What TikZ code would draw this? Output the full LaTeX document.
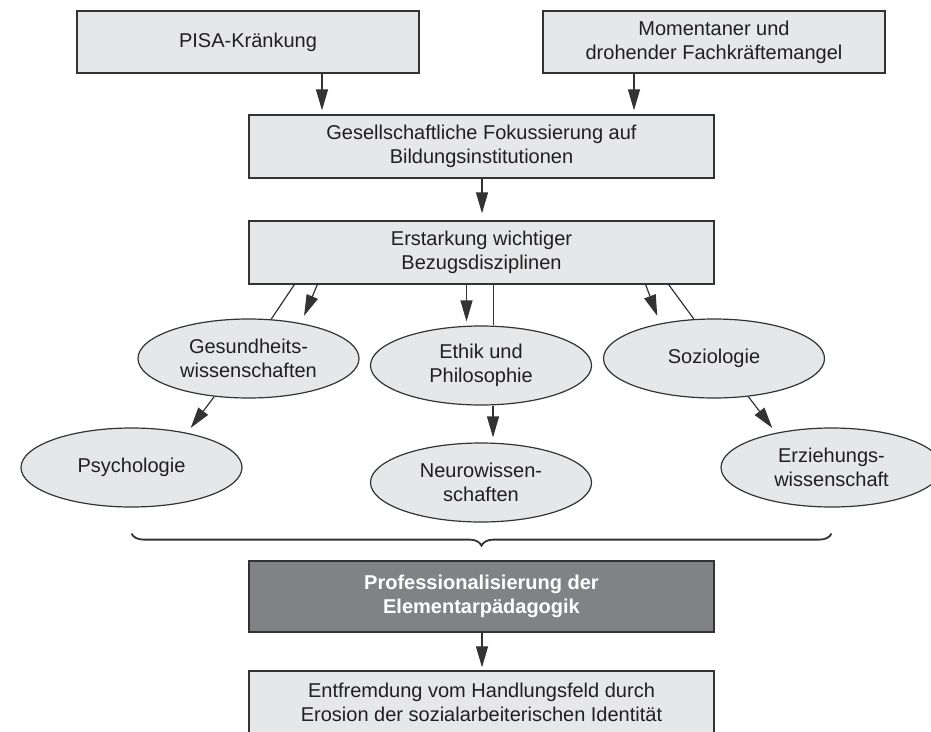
\documentclass[tikz,border=0pt]{standalone}
\usepackage{fontspec}
\setmainfont{Liberation Sans}
\usetikzlibrary{arrows.meta,decorations.pathreplacing,shapes.geometric}
\definecolor{boxgray}{HTML}{E6E7E8}
\definecolor{profgray}{HTML}{808285}
\definecolor{linegray}{HTML}{333333}
\definecolor{textgray}{HTML}{231F20}
\begin{document}
\begin{tikzpicture}
[x=1pt, y=-1pt, color=linegray, line width=1.2pt,
 box/.style={draw, line width=1.3pt, fill=boxgray, text=textgray, align=center,
   inner sep=0pt, minimum width=465pt, minimum height=63pt,
   font=\fontsize{20}{24}\selectfont},
 disc/.style={ellipse, draw, fill=boxgray, text=textgray, align=center,
   inner sep=0pt, minimum width=221pt, minimum height=79pt,
   font=\fontsize{20}{24}\selectfont},
 arr/.style={-{Triangle[length=21pt,width=12pt]}}]
\useasboundingbox (0,0) rectangle (931,731);
  % boxes
  \node[box, minimum width=342pt, minimum height=62pt] (pisa) at (248,42) {PISA-Kränkung};
  \node[box, minimum width=342pt, minimum height=62pt] (mangel) at (714,42) {Momentaner und\\drohender Fachkräftemangel};
  \node[box] (fokus) at (481.5,146.5) {Gesellschaftliche Fokussierung auf\\Bildungsinstitutionen};
  \node[box] (erst) at (481.5,252.5) {Erstarkung wichtiger\\Bezugsdisziplinen};
  % disciplines
  \node[disc] (ges) at (248.5,358.5) {Gesundheits-\\wissenschaften};
  \node[disc] (ethik) at (481,365.5) {Ethik und\\Philosophie};
  \node[disc] (sozio) at (714,358.5) {Soziologie};
  \node[disc] (psych) at (131.5,467.5) {Psychologie};
  \node[disc] (neuro) at (481,482.5) {Neurowissen-\\schaften};
  \node[disc] (erz) at (831.5,467.5) {Erziehungs-\\wissenschaft};
  % result
  \node[box, fill=profgray, text=white, minimum height=71pt,
    font=\bfseries\fontsize{20}{24}\selectfont] (prof) at (481.5,596.5) {Professionalisierung der\\Elementarpädagogik};
  \node[box, minimum height=62pt] (entf) at (481.5,702) {Entfremdung vom Handlungsfeld durch\\Erosion der sozialarbeiterischen Identität};
  % arrows
  \draw[arr, shorten >=4pt] ([xshift=74pt]pisa.south) -- ([xshift=74pt]pisa.south |- fokus.north);
  \draw[arr, shorten >=4pt] ([xshift=-80pt]mangel.south) -- ([xshift=-80pt]mangel.south |- fokus.north);
  \foreach \from/\to/\gap in {fokus/erst/7, prof/entf/3}
  \draw[arr, shorten >=\gap pt] ([xshift=0.5pt]\from.south) -- ([xshift=0.5pt]\to.north);
  \draw ([xshift=46pt]erst.south west) -- (ges.60);
  \draw[arr, shorten >=8pt] ([xshift=69pt]erst.south west) -- (ges.34);
  \draw[arr, shorten >=4pt] ([xshift=-15pt]erst.south) -- ([xshift=-15pt]erst.south |- ethik.north);
  \draw ([xshift=12pt]erst.south) -- ([xshift=12pt]erst.south |- ethik.north);
  \draw[arr, shorten >=8pt] ([xshift=-69pt]erst.south east) -- (sozio.147);
  \draw ([xshift=-46pt]erst.south east) -- (sozio.117);
  \draw[arr, shorten >=6pt] (ges.228) -- (psych.32);
  \draw[arr, shorten >=5pt] ([xshift=12pt]ethik.south) -- ([xshift=12pt]ethik.south |- neuro.north);
  \draw[arr, shorten >=6pt] (sozio.312) -- (erz.148);
  % brace
  \draw[line width=1.8pt, decorate, decoration={brace, mirror, amplitude=12pt}]
    ([yshift=-26pt]psych.south) -- ([yshift=-26pt]erz.south);
\end{tikzpicture}
\end{document}
